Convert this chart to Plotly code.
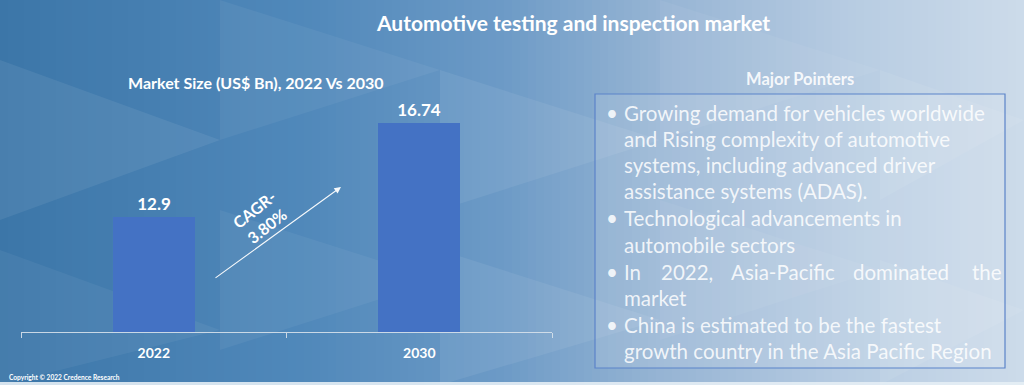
import plotly.graph_objects as go

# ---- data ----
years = ["2022", "2030"]
market_size = [12.9, 16.74]
value_labels = ["12.9", "16.74"]
title_text = "Automotive testing and inspection market"
subtitle_text = "Market Size (US$ Bn), 2022 Vs 2030"
cagr_text = "CAGR-<br>3.80%"
pointers_title = "Major Pointers"
bullet_lines = [
    ("•", "Growing demand for vehicles worldwide"),
    ("", "and Rising complexity of automotive"),
    ("", "systems, including advanced driver"),
    ("", "assistance systems (ADAS)."),
    ("•", "Technological advancements in"),
    ("", "automobile sectors"),
    ("•", None),  # justified line drawn word by word
    ("", "market"),
    ("•", "China is estimated to be the fastest"),
    ("", "growth country in the Asia Pacific Region"),
]
justified_words = ["In", "2022,", "Asia-Pacific", "dominated", "the"]
justified_x = [622, 659, 729, 851, 970]
copyright_text = "Copyright © 2022 Credence Research"

W, H = 1024, 385
FONT = "Lato"


def px(x):
    return x / W


def py(y):
    return 1 - y / H


def lerp(c1, c2, t):
    return tuple(round(a + (b - a) * t) for a, b in zip(c1, c2))


stops = [(0, (60, 118, 168)), (300, (80, 136, 186)), (500, (108, 154, 198)),
         (650, (148, 179, 211)), (850, (183, 204, 226)), (1024, (204, 219, 234))]


def grad(x):
    for (x0, c0), (x1, c1) in zip(stops[:-1], stops[1:]):
        if x0 <= x <= x1:
            return lerp(c0, c1, (x - x0) / (x1 - x0))
    return stops[-1][1]


shapes = []
n = 128
for i in range(n):
    x0 = W * i / n
    x1 = W * (i + 1) / n
    c = grad((x0 + x1) / 2)
    shapes.append(dict(type="rect", xref="paper", yref="paper", x0=px(x0), x1=px(x1) + 0.001,
                       y0=0, y1=1, fillcolor="rgb(%d,%d,%d)" % c, line=dict(width=0), layer="below"))

# faint triangular facets
tri = [
    [(0, 60), (220, 140), (0, 220)], [(220, 0), (440, 70), (220, 140)],
    [(440, 70), (660, 140), (440, 210)], [(660, 0), (880, 70), (660, 140)],
    [(880, 70), (1024, 120), (880, 200)], [(0, 250), (220, 330), (0, 385)],
    [(440, 250), (660, 320), (440, 385)], [(660, 200), (880, 270), (660, 340)],
    [(880, 260), (1024, 310), (880, 385)], [(220, 210), (440, 280), (220, 350)],
]
for k, t in enumerate(tri):
    path = "M " + " L ".join("%f,%f" % (px(a), py(b)) for a, b in t) + " Z"
    shapes.append(dict(type="path", xref="paper", yref="paper", path=path,
                       fillcolor="rgba(255,255,255,%.2f)" % (0.05 if k % 2 else 0.07),
                       line=dict(width=0), layer="below"))

# pointers box
shapes.append(dict(type="rect", xref="paper", yref="paper", x0=px(595), x1=px(1005),
                   y0=py(368), y1=py(94), fillcolor="rgba(255,255,255,0.12)",
                   line=dict(color="#5B83C9", width=1.2), layer="below"))
# bottom light strip
shapes.append(dict(type="rect", xref="paper", yref="paper", x0=0, x1=1, y0=0, y1=py(382),
                   fillcolor="rgba(230,238,245,0.9)", line=dict(width=0)))

fig = go.Figure()
fig.add_trace(go.Bar(
    x=years, y=market_size, width=0.31, marker=dict(color="#4472C4", line=dict(width=0)),
    text=["<b>%s</b>" % v for v in value_labels], textposition="outside",
    textfont=dict(family=FONT, size=17, color="white"), cliponaxis=False,
    hoverinfo="skip",
))


def A(text, x, y, size, color="white", xanchor="center", **kw):
    return dict(text=text, x=px(x), y=py(y), xref="paper", yref="paper", xanchor=xanchor,
                yanchor="middle", showarrow=False, font=dict(family=FONT, size=size, color=color), **kw)


ann = []
ann.append(A("<b>%s</b>" % title_text, 573, 22, 21))
ann.append(A("<b>%s</b>" % subtitle_text, 256, 83, 16))
ann.append(A("<b>%s</b>" % pointers_title, 800, 79, 16.5, "rgba(255,255,255,0.9)"))
ann.append(A("<b>%s</b>" % cagr_text, 260, 218, 16, textangle=-38))
# CAGR arrow
ann.append(dict(x=px(341), y=py(187), ax=214 - 341, ay=279 - 187, xref="paper", yref="paper",
                axref="pixel", ayref="pixel", text="", showarrow=True, arrowhead=2,
                arrowsize=1.2, arrowwidth=1.1, arrowcolor="rgba(255,255,255,0.95)"))
ann.append(A("<b>%s</b>" % copyright_text, 7, 377, 6.6, xanchor="left"))

line_y = [113, 139, 165, 191, 218, 245, 272, 298, 325, 351]
txt_col = "rgba(255,255,255,0.85)"
BS = 20.5
for (b, t), yy in zip(bullet_lines, line_y):
    if b:
        ann.append(A(b, 604, yy, BS, txt_col, xanchor="left"))
    if t:
        ann.append(A(t, 622, yy, BS, txt_col, xanchor="left"))
for w, xx in zip(justified_words, justified_x):
    ann.append(A(w, xx, 272, BS, txt_col, xanchor="left"))

fig.update_layout(
    width=W, height=H, margin=dict(l=0, r=0, t=0, b=0),
    paper_bgcolor="#4a80b0", plot_bgcolor="rgba(0,0,0,0)",
    shapes=shapes, annotations=ann, showlegend=False, bargap=0,
    xaxis=dict(domain=[px(21), px(552)], type="category", range=[-0.5, 1.5],
               showline=True, linecolor="rgba(215,225,235,0.9)", linewidth=1.2,
               ticks="outside", tickson="boundaries", ticklen=5,
               tickcolor="rgba(215,225,235,0.9)", ticklabelstandoff=8,
               tickfont=dict(family=FONT, size=14, color="white"),
               tickvals=years, ticktext=["<b>%s</b>" % y for y in years],
               showgrid=False, zeroline=False, fixedrange=True),
    yaxis=dict(domain=[py(332), py(80)], range=[8.2, 18.49], visible=False,
               showgrid=False, zeroline=False, fixedrange=True),
)

fig.write_html("out.html", config={"displayModeBar": False},
               post_script="document.body.style.margin='0';document.body.style.overflow='hidden';")
